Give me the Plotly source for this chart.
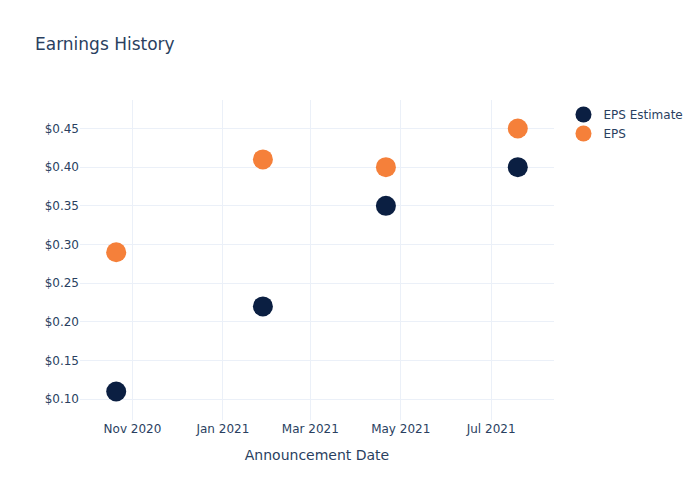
import plotly.graph_objects as go

dates = ["2020-10-21", "2021-01-28", "2021-04-21", "2021-07-19"]
eps_estimate = [0.11, 0.22, 0.35, 0.40]
eps_actual = [0.29, 0.41, 0.40, 0.45]

fig = go.Figure()
fig.add_trace(go.Scatter(x=dates, y=eps_estimate, mode="markers", name="EPS Estimate",
                         marker=dict(color="#0b1f42", size=20)))
fig.add_trace(go.Scatter(x=dates, y=eps_actual, mode="markers", name="EPS",
                         marker=dict(color="#f5803a", size=20)))
fig.update_layout(
    template="plotly_white",
    width=700, height=500,
    font=dict(family="DejaVu Sans"),
    title=dict(text="Earnings History"),
    xaxis=dict(title=dict(text="Announcement Date")),
    yaxis=dict(tickformat="$.2f"),
)
fig.write_html("out.html")
